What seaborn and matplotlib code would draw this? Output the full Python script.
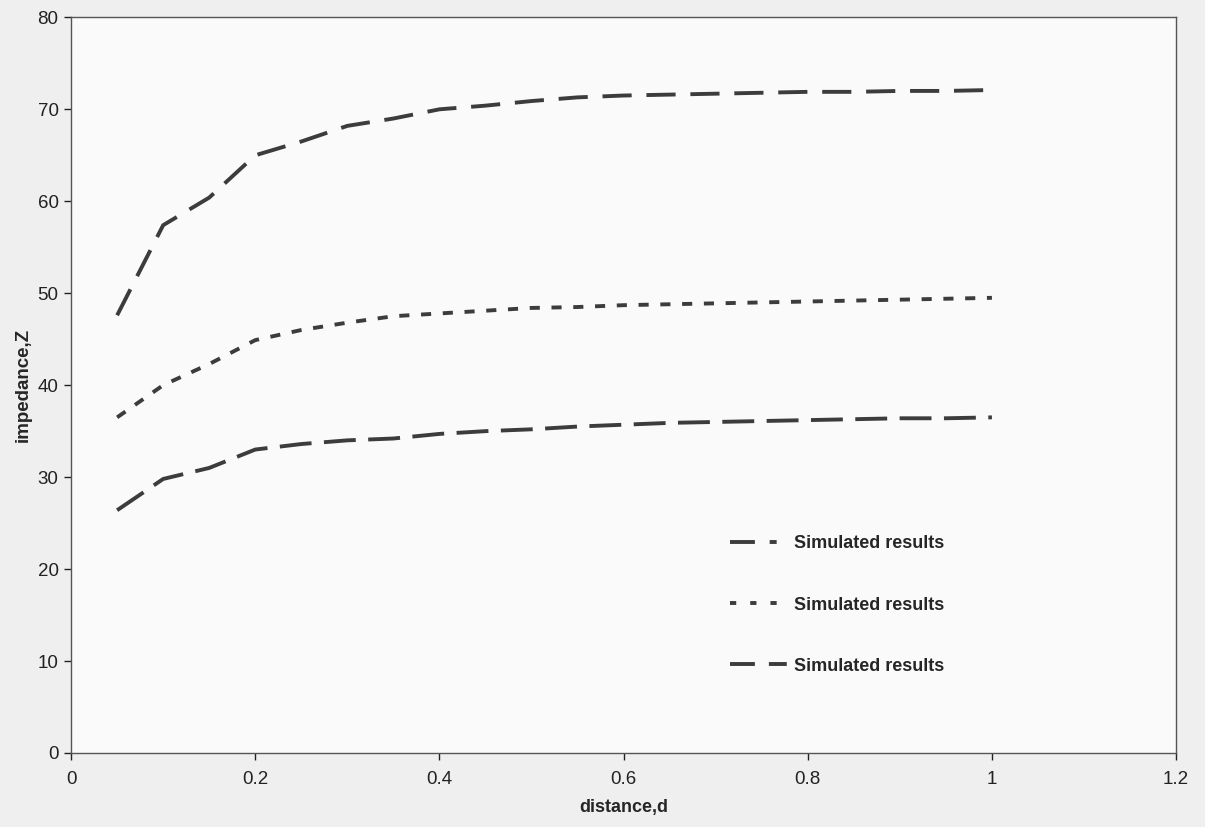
import seaborn as sns
import matplotlib.pyplot as plt
import pandas as pd
import numpy as np

# distancia y las tres series de impedancia
distance = [0.05, 0.10, 0.15, 0.20, 0.25, 0.30, 0.35, 0.40, 0.45, 0.50,
            0.55, 0.60, 0.65, 0.70, 0.75, 0.80, 0.85, 0.90, 0.95, 1.00]
z_top = [47.6, 57.4, 60.4, 65.0, 66.5, 68.2, 69.0, 70.0, 70.4, 70.9,
         71.3, 71.5, 71.6, 71.7, 71.8, 71.9, 71.9, 72.0, 72.0, 72.1]
z_mid = [36.5, 40.0, 42.3, 44.9, 46.0, 46.8, 47.5, 47.8, 48.1, 48.4,
         48.5, 48.7, 48.8, 48.9, 49.0, 49.1, 49.2, 49.3, 49.4, 49.5]
z_bot = [26.4, 29.8, 31.0, 33.0, 33.6, 34.0, 34.2, 34.7, 35.0, 35.2,
         35.5, 35.7, 35.9, 36.0, 36.1, 36.2, 36.3, 36.4, 36.4, 36.5]
series_names = ["s1", "s2", "s3"]
legend_label = "Simulated results"

df = pd.concat([
    pd.DataFrame({"d": distance, "z": z_top, "serie": series_names[0]}),
    pd.DataFrame({"d": distance, "z": z_mid, "serie": series_names[1]}),
    pd.DataFrame({"d": distance, "z": z_bot, "serie": series_names[2]}),
])

sns.set_style("white")
plt.rcParams['font.family'] = ['Liberation Sans', 'DejaVu Sans']

fig = plt.figure(figsize=(12.05, 8.27), dpi=100, facecolor='#efefef')
ax = fig.add_axes([0.059, 0.0895, 0.917, 0.8895])
ax.set_facecolor('#fafafa')

color = '#3c3c3c'
# patrones de guion (en unidades del grosor de linea)
dashes = {"s1": (7.5, 3.8), "s2": (2.6, 3.0), "s3": (8.2, 3.2)}
sns.lineplot(data=df, x="d", y="z", hue="serie", style="serie",
             palette={k: color for k in series_names}, dashes=dashes,
             linewidth=2.8, ax=ax, legend=False)

ax.set_xlim(0, 1.2)
ax.set_ylim(0, 80)
ax.set_xticks([0, 0.2, 0.4, 0.6, 0.8, 1, 1.2])
ax.set_xticklabels(["0", "0.2", "0.4", "0.6", "0.8", "1", "1.2"])
ax.set_yticks(range(0, 81, 10))
ax.tick_params(axis='both', direction='out', length=5, width=1, labelsize=13.5,
               colors='#222222', left=True, bottom=True, pad=4)
ax.tick_params(axis='x', pad=8)
for s in ax.spines.values():
    s.set_color('#555555')
    s.set_linewidth(1)

ax.set_xlabel("distance,d", fontsize=13, fontweight='bold', labelpad=8)
ax.set_ylabel("impedance,Z", fontsize=13.5, fontweight='bold', labelpad=4)

handles = ax.get_lines()[:3]
leg = ax.legend(handles, [legend_label] * 3, loc='upper left', bbox_to_anchor=(0.582, 0.318),
                frameon=False, labelspacing=2.45, handlelength=3.2, handletextpad=0.3,
                prop={'weight': 'bold', 'size': 13})
# las muestras de la leyenda se ven cortadas como en Excel
leg_dashes = [(6.4, 3.8, 1.8, 10), (1.6, 3.6), (6.4, 3.6, 4.6, 10)]
for ln, dsh in zip(leg.get_lines(), leg_dashes):
    ln.set_dashes(dsh)

fig.savefig("out.png", dpi=100, facecolor=fig.get_facecolor())
